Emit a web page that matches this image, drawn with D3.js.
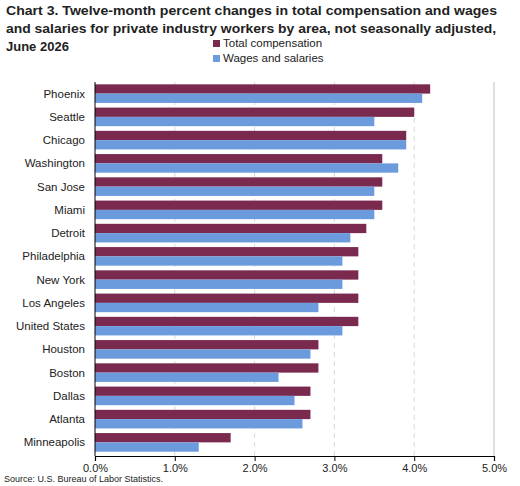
<!DOCTYPE html>
<html><head><meta charset="utf-8">
<script src="https://cdn.jsdelivr.net/npm/d3@7"></script>
<style>body{margin:0;background:#fff;font-family:"Liberation Sans",Arial,sans-serif}</style>
</head><body><svg id="c" width="520" height="486"></svg>
<script>
const areas = ["Phoenix","Seattle","Chicago","Washington","San Jose","Miami","Detroit","Philadelphia","New York","Los Angeles","United States","Houston","Boston","Dallas","Atlanta","Minneapolis"];
const totalComp = [4.2,4.0,3.9,3.6,3.6,3.6,3.4,3.3,3.3,3.3,3.3,2.8,2.8,2.7,2.7,1.7];
const wages = [4.1,3.5,3.9,3.8,3.5,3.5,3.2,3.1,3.1,2.8,3.1,2.7,2.3,2.5,2.6,1.3];
const ticks = [0,1,2,3,4,5];
const series = [{name:"Total compensation",vals:totalComp,color:"#7b2a4f"},{name:"Wages and salaries",vals:wages,color:"#6b9bdc"}];
const F = "'Liberation Sans',Arial,sans-serif";

const svg = d3.select("#c").attr("font-family",F);
const x = d3.scaleLinear().domain([0,5]).range([95,494]);
const y = d3.scaleBand().domain(areas).range([82,454]).paddingInner(0.2).paddingOuter(0.1);
const sub = d3.scaleBand().domain([0,1]).range([0,y.bandwidth()]);

const title = ["Chart 3. Twelve-month percent changes in total compensation and wages","and salaries for private industry workers by area, not seasonally adjusted,","June 2026"];
svg.selectAll("text.t").data(title).join("text").attr("x",6).attr("y",(d,i)=>15+i*18)
  .attr("font-weight","bold").attr("font-size",13).attr("fill","#222")
  .attr("textLength",(d,i)=>i==0?491:(i==1?490:null)).attr("lengthAdjust","spacingAndGlyphs").text(d=>d);

svg.selectAll("line.g").data(ticks.slice(1,5)).join("line").attr("x1",d=>x(d)).attr("x2",d=>x(d))
  .attr("y1",82).attr("y2",456).attr("stroke","#d9d9d9").attr("stroke-dasharray","5,4");
svg.append("line").attr("x1",x(5)).attr("x2",x(5)).attr("y1",82).attr("y2",456).attr("stroke","#bfbfbf");

series.forEach((s,k)=>{
  svg.append("g").selectAll("rect").data(areas).join("rect")
    .attr("x",x(0)).attr("y",(d,i)=>y(d)+sub(k)).attr("height",sub.bandwidth())
    .attr("width",(d,i)=>x(s.vals[i])-x(0)).attr("fill",s.color);
});

const ax = svg.append("g").attr("transform","translate(0,456)")
  .call(d3.axisBottom(x).tickValues(ticks).tickSize(5).tickFormat(d=>d.toFixed(1)+"%"));
ax.select(".domain").attr("stroke","#000").attr("stroke-width",1.2);
ax.selectAll("text").attr("font-size",11).attr("font-family",F).attr("fill","#222");

svg.append("line").attr("x1",95).attr("x2",95).attr("y1",82).attr("y2",456).attr("stroke","#000");
svg.selectAll("text.l").data(areas).join("text").attr("x",85).attr("y",d=>y(d)+y.bandwidth()/2+4)
  .attr("text-anchor","end").attr("font-size",11.5).attr("fill","#222").text(d=>d);

const lg = svg.selectAll("g.lg").data(series).join("g").attr("transform",(d,i)=>`translate(213,${47+i*15})`);
lg.append("rect").attr("width",7).attr("height",7).attr("y",-7).attr("fill",d=>d.color);
lg.append("text").attr("x",10).attr("font-size",11.5).attr("fill","#222").text(d=>d.name);

svg.append("text").attr("x",4).attr("y",482).attr("font-size",9).attr("fill","#222").text("Source: U.S. Bureau of Labor Statistics.");
</script></body></html>
